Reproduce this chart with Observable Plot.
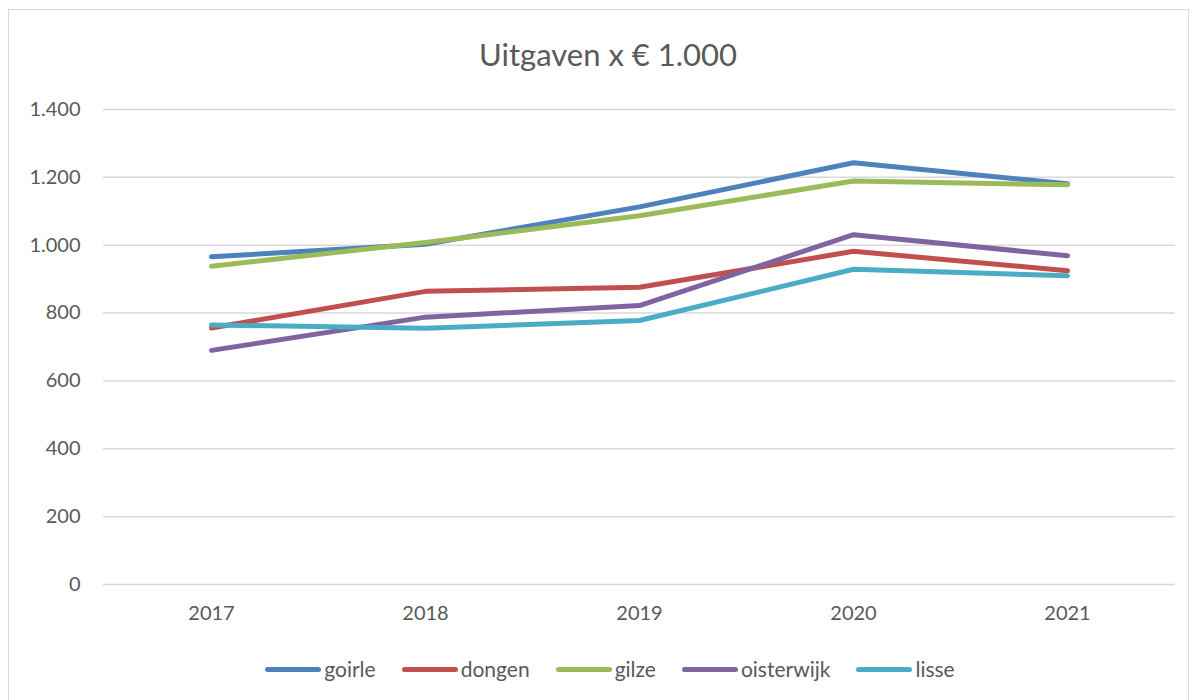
<!DOCTYPE html>
<html>
<head>
<meta charset="utf-8">
<script src="https://cdn.jsdelivr.net/npm/d3@7"></script>
<script src="https://cdn.jsdelivr.net/npm/@observablehq/plot@0.6"></script>
<style>
  html, body { margin: 0; padding: 0; background: #fff; }
  body { width: 1200px; height: 700px; position: relative; overflow: hidden; font-family: Lato, "Open Sans", sans-serif; }
  #frame { position: absolute; left: 8px; top: 9px; width: 1181px; height: 700px; border: 1.5px solid #d9d9d9; box-sizing: border-box; }
  #title { position: absolute; left: 0; width: 1216px; top: 34px; text-align: center; font-size: 31px; color: #595959; line-height: 40px; }
  #chart { position: absolute; left: 0; top: 0; }
  #legend { position: absolute; left: 0; width: 1220px; top: 655px; display: flex; justify-content: center; gap: 26px; font-size: 21px; color: #595959; line-height: 28px; }
  .item { display: flex; align-items: center; gap: 3px; }
  .sw { width: 56px; height: 5px; border-radius: 3px; }
</style>
</head>
<body>
<div id="frame"></div>
<div id="chart"></div>
<div id="title">Uitgaven x € 1.000</div>
<div id="legend"></div>
<script>
const years = ["2017", "2018", "2019", "2020", "2021"];
const seriesNames = ["goirle", "dongen", "gilze", "oisterwijk", "lisse"];
const colors = ["#4F81BD", "#C0504D", "#9BBB59", "#8064A2", "#4BACC6"];
const goirle = [966, 1003, 1113, 1243, 1181];
const dongen = [756, 864, 876, 982, 925];
const gilze = [938, 1008, 1087, 1189, 1178];
const oisterwijk = [690, 788, 822, 1031, 969];
const lisse = [765, 755, 778, 929, 910];
const yTicks = [0, 200, 400, 600, 800, 1000, 1200, 1400];

const valuesBySeries = [goirle, dongen, gilze, oisterwijk, lisse];
const rows = [];
seriesNames.forEach((name, i) => {
  years.forEach((yr, j) => rows.push({ series: name, year: yr, value: valuesBySeries[i][j] }));
});

const fmt = d => d3.format(",")(d).replace(/,/g, ".");

const chart = Plot.plot({
  width: 1200,
  height: 620,
  marginTop: 109,
  marginBottom: 36,
  marginLeft: 103,
  marginRight: 25,
  style: { fontFamily: "Lato, 'Open Sans', sans-serif", fontSize: "20px", color: "#595959", background: "transparent", overflow: "visible" },
  x: { type: "point", domain: years, padding: 0.5 },
  y: { domain: [0, 1400] },
  color: { domain: seriesNames, range: colors },
  marks: [
    Plot.gridY(yTicks, { stroke: "#d9d9d9", strokeOpacity: 1, strokeWidth: 1.5 }),
    Plot.axisY({ ticks: yTicks, tickSize: 0, tickPadding: 23, tickFormat: fmt, label: null, fill: "#595959" }),
    Plot.axisX({ tickSize: 0, tickPadding: 21, label: null, fill: "#595959" }),
    Plot.line(rows, { x: "year", y: "value", z: "series", stroke: "series", strokeWidth: 5, strokeLinecap: "round", strokeLinejoin: "round" })
  ]
});
document.getElementById("chart").appendChild(chart);

const legend = document.getElementById("legend");
seriesNames.forEach((name, i) => {
  const it = document.createElement("div");
  it.className = "item";
  const sw = document.createElement("div");
  sw.className = "sw";
  sw.style.background = colors[i];
  const tx = document.createElement("span");
  tx.textContent = name;
  it.appendChild(sw);
  it.appendChild(tx);
  legend.appendChild(it);
});
</script>
</body>
</html>
